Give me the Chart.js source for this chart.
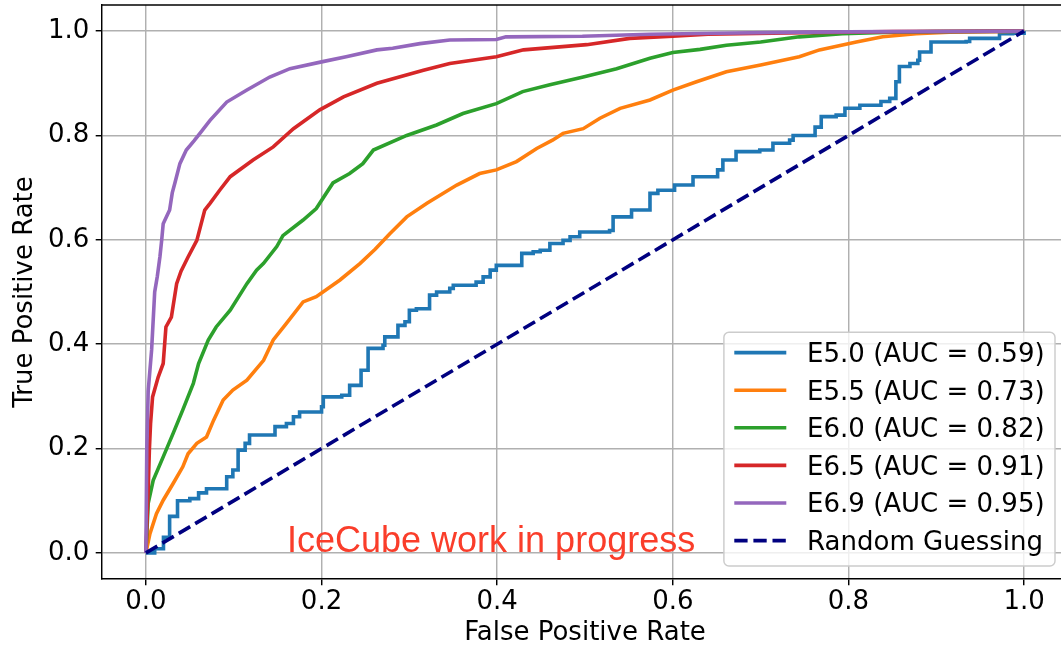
<!DOCTYPE html>
<html>
<head>
<meta charset="utf-8">
<script src="https://cdn.jsdelivr.net/npm/chart.js@4.4.1/dist/chart.umd.min.js"></script>
<style>
  html, body { margin: 0; padding: 0; overflow: hidden; background: #fff; width: 1061px; height: 646px; }
  #wrap { width: 1080px; height: 646px; }
  canvas { display: block; }
</style>
</head>
<body>
<div id="wrap"><canvas id="roc" width="1080" height="646"></canvas></div>
<script>
// Axis ticks
const tickValues = [0.0, 0.2, 0.4, 0.6, 0.8, 1.0];

// Legend labels
const seriesLabels = [
  'E5.0 (AUC = 0.59)',
  'E5.5 (AUC = 0.73)',
  'E6.0 (AUC = 0.82)',
  'E6.5 (AUC = 0.91)',
  'E6.9 (AUC = 0.95)',
  'Random Guessing'
];

// ROC curves: false positive rate / true positive rate
const e50Fpr = [0, 0.010, 0.020, 0.027, 0.036, 0.050, 0.060, 0.069, 0.092, 0.099, 0.105, 0.113, 0.118, 0.147, 0.160, 0.168, 0.175, 0.200, 0.202, 0.223, 0.232, 0.245, 0.253, 0.270, 0.272, 0.287, 0.295, 0.300, 0.308, 0.323, 0.331, 0.346, 0.350, 0.376, 0.384, 0.392, 0.399, 0.428, 0.441, 0.449, 0.460, 0.475, 0.483, 0.494, 0.528, 0.532, 0.553, 0.574, 0.583, 0.602, 0.623, 0.651, 0.657, 0.672, 0.699, 0.714, 0.733, 0.737, 0.762, 0.769, 0.786, 0.796, 0.813, 0.837, 0.847, 0.854, 0.858, 0.870, 0.879, 0.881, 0.894, 0.934, 0.938, 0.972, 0.987, 1.000];
const e50Tpr = [0, 0.008, 0.030, 0.070, 0.100, 0.104, 0.115, 0.123, 0.146, 0.159, 0.197, 0.210, 0.226, 0.242, 0.248, 0.261, 0.270, 0.280, 0.299, 0.302, 0.321, 0.350, 0.392, 0.398, 0.414, 0.436, 0.443, 0.465, 0.468, 0.494, 0.500, 0.507, 0.513, 0.519, 0.529, 0.542, 0.551, 0.574, 0.577, 0.580, 0.593, 0.599, 0.606, 0.615, 0.618, 0.644, 0.657, 0.689, 0.695, 0.705, 0.721, 0.734, 0.753, 0.769, 0.772, 0.785, 0.791, 0.800, 0.816, 0.836, 0.839, 0.852, 0.858, 0.865, 0.871, 0.903, 0.932, 0.938, 0.944, 0.960, 0.979, 0.980, 0.986, 0.995, 0.996, 1.000];

const e55Fpr = [0, 0.0046, 0.012, 0.0197, 0.031, 0.042, 0.048, 0.058, 0.069, 0.077, 0.088, 0.099, 0.115, 0.134, 0.145, 0.160, 0.179, 0.194, 0.221, 0.244, 0.261, 0.278, 0.297, 0.320, 0.354, 0.380, 0.399, 0.422, 0.445, 0.463, 0.475, 0.498, 0.517, 0.540, 0.574, 0.600, 0.627, 0.661, 0.700, 0.744, 0.767, 0.809, 0.839, 0.877, 0.915, 1.000];
const e55Tpr = [0, 0.037, 0.075, 0.101, 0.133, 0.165, 0.190, 0.210, 0.222, 0.254, 0.293, 0.312, 0.331, 0.369, 0.408, 0.440, 0.481, 0.491, 0.523, 0.555, 0.582, 0.612, 0.644, 0.670, 0.705, 0.727, 0.734, 0.750, 0.775, 0.791, 0.804, 0.813, 0.833, 0.852, 0.868, 0.887, 0.903, 0.922, 0.935, 0.951, 0.964, 0.979, 0.989, 0.995, 0.998, 1.000];

const e60Fpr = [0, 0.0026, 0.0083, 0.0197, 0.031, 0.042, 0.054, 0.060, 0.071, 0.080, 0.096, 0.115, 0.126, 0.134, 0.149, 0.156, 0.179, 0.194, 0.213, 0.232, 0.247, 0.259, 0.297, 0.331, 0.361, 0.399, 0.429, 0.460, 0.498, 0.536, 0.574, 0.600, 0.631, 0.661, 0.700, 0.744, 0.793, 0.850, 0.900, 1.000];
const e60Tpr = [0, 0.095, 0.139, 0.184, 0.229, 0.274, 0.325, 0.363, 0.408, 0.433, 0.465, 0.516, 0.542, 0.555, 0.587, 0.608, 0.638, 0.660, 0.709, 0.727, 0.746, 0.772, 0.800, 0.820, 0.842, 0.861, 0.884, 0.897, 0.912, 0.928, 0.948, 0.959, 0.965, 0.973, 0.979, 0.989, 0.995, 0.998, 0.999, 1.000];

const e65Fpr = [0, 0.001, 0.0026, 0.004, 0.0053, 0.0076, 0.014, 0.0197, 0.0228, 0.029, 0.035, 0.040, 0.048, 0.058, 0.067, 0.073, 0.084, 0.096, 0.122, 0.145, 0.168, 0.198, 0.225, 0.263, 0.316, 0.346, 0.399, 0.430, 0.502, 0.551, 0.600, 0.640, 0.750, 0.850, 1.000];
const e65Tpr = [0, 0.050, 0.120, 0.200, 0.248, 0.299, 0.337, 0.363, 0.433, 0.452, 0.516, 0.540, 0.567, 0.599, 0.657, 0.670, 0.695, 0.721, 0.753, 0.778, 0.813, 0.849, 0.874, 0.900, 0.925, 0.938, 0.951, 0.964, 0.974, 0.986, 0.990, 0.994, 0.997, 0.999, 1.000];

const e69Fpr = [0, 0.001, 0.0026, 0.0065, 0.010, 0.013, 0.016, 0.018, 0.0197, 0.027, 0.030, 0.033, 0.0387, 0.046, 0.055, 0.0615, 0.073, 0.092, 0.115, 0.141, 0.164, 0.200, 0.228, 0.263, 0.281, 0.312, 0.346, 0.399, 0.410, 0.497, 0.574, 0.650, 0.750, 0.850, 1.000];
const e69Tpr = [0, 0.200, 0.310, 0.389, 0.500, 0.530, 0.568, 0.600, 0.631, 0.657, 0.690, 0.709, 0.746, 0.772, 0.790, 0.804, 0.829, 0.864, 0.887, 0.912, 0.928, 0.941, 0.951, 0.964, 0.967, 0.976, 0.983, 0.984, 0.989, 0.990, 0.994, 0.996, 0.998, 0.999, 1.000];

const chanceFpr = [0, 1];
const chanceTpr = [0, 1];

const seriesColors = ['#1f77b4', '#ff7f0e', '#2ca02c', '#d62728', '#9467bd', '#000080'];

const FONT = 'DejaVu Sans';
const FS = 26;
const LW = 3.6;
const DASH = [13.3, 5.8];

const toPoints = (xs, ys) => xs.map((x, i) => ({ x: x, y: ys[i] }));

const curves = [
  [e50Fpr, e50Tpr], [e55Fpr, e55Tpr], [e60Fpr, e60Tpr],
  [e65Fpr, e65Tpr], [e69Fpr, e69Tpr], [chanceFpr, chanceTpr]
];

const datasets = curves.map((c, i) => ({
  label: seriesLabels[i],
  data: toPoints(c[0], c[1]),
  borderColor: seriesColors[i],
  backgroundColor: seriesColors[i],
  borderWidth: LW,
  borderDash: i === 5 ? DASH : [],
  stepped: i === 0 ? 'before' : false,
  pointRadius: 0,
  fill: false,
  tension: 0,
  order: 5 - i
}));

// Top spine, watermark text and the lower-right legend
const decorations = {
  id: 'decorations',
  afterDraw(chart) {
    const ctx = chart.ctx;
    const a = chart.chartArea;
    ctx.save();
    ctx.strokeStyle = '#000';
    ctx.lineWidth = 1.45;
    ctx.beginPath();
    ctx.moveTo(a.left, a.top);
    ctx.lineTo(a.right, a.top);
    ctx.stroke();

    // overlay note
    ctx.font = '36px "Liberation Sans", Arial, sans-serif';
    ctx.fillStyle = '#fa3d2a';
    ctx.textBaseline = 'alphabetic';
    ctx.textAlign = 'left';
    ctx.fillText('IceCube work in progress', 287, 552);

    // legend
    ctx.font = FS + 'px "' + FONT + '"';
    const pad = 0.5 * FS, borderPad = 0.4 * FS, handleLen = 2 * FS, handlePad = 0.8 * FS;
    const rowH = 37.6, textH = 25;
    const labels = chart.data.datasets.map(d => d.label);
    const textW = Math.max(...labels.map(t => ctx.measureText(t).width));
    const boxW = borderPad + handleLen + handlePad + textW + borderPad;
    const boxH = 2 * borderPad + textH + (labels.length - 1) * rowH;
    const bx = a.right - pad - boxW;
    const by = a.bottom - pad - boxH;
    ctx.beginPath();
    ctx.roundRect(bx, by, boxW, boxH, 5);
    ctx.fillStyle = 'rgba(255,255,255,0.8)';
    ctx.fill();
    ctx.strokeStyle = '#cccccc';
    ctx.lineWidth = 1.45;
    ctx.stroke();

    chart.data.datasets.forEach((d, i) => {
      const cy = by + borderPad + 10 + i * rowH;
      const dashed = d.borderDash && d.borderDash.length;
      ctx.beginPath();
      ctx.strokeStyle = d.borderColor;
      ctx.lineWidth = LW;
      ctx.setLineDash(dashed ? d.borderDash : []);
      ctx.lineCap = dashed ? 'butt' : 'square';
      const hx = bx + borderPad;
      ctx.moveTo(hx + (dashed ? 0 : 1.8), cy);
      ctx.lineTo(hx + handleLen - (dashed ? 0 : 1.8), cy);
      ctx.stroke();
      ctx.setLineDash([]);
      ctx.fillStyle = '#000';
      ctx.textBaseline = 'alphabetic';
      ctx.fillText(d.label, hx + handleLen + handlePad, cy + 0.365 * FS);
    });
    ctx.restore();
  }
};

const axisCommon = (afterFitFn) => ({
  type: 'linear',
  min: -0.05,
  max: 1.05,
  afterBuildTicks: s => { s.ticks = tickValues.map(v => ({ value: v })); },
  afterFit: afterFitFn,
  grid: { color: '#b0b0b0', lineWidth: 1.45, tickColor: '#000', tickWidth: 1.45, tickLength: 6.3, drawTicks: true },
  border: { display: true, color: '#000', width: 1.45 },
});

new Chart(document.getElementById('roc'), {
  type: 'line',
  data: { datasets: datasets },
  options: {
    responsive: false,
    animation: false,
    devicePixelRatio: 1,
    layout: { padding: { top: 5, right: 12, left: 0, bottom: 0 } },
    plugins: { legend: { display: false }, tooltip: { enabled: false } },
    scales: {
      x: Object.assign(axisCommon(s => {
        s.height = 67; s.paddingLeft = 0; s.paddingRight = 0;
      }), {
        ticks: { color: '#000', font: { family: FONT, size: FS, lineHeight: 1.2 }, padding: 1.2, maxRotation: 0, autoSkip: false,
                 callback: v => Number(v).toFixed(1) },
        title: { display: true, text: 'False Positive Rate', color: '#000',
                 font: { family: FONT, size: FS, lineHeight: 1 }, padding: { top: 1.2, bottom: 0 } }
      }),
      y: Object.assign(axisCommon(s => {
        s.width = 102; s.paddingTop = 0; s.paddingBottom = 0;
      }), {
        ticks: { color: '#000', font: { family: FONT, size: FS, lineHeight: 1.2 }, padding: 6.3, autoSkip: false,
                 callback: v => Number(v).toFixed(1) },
        title: { display: true, text: 'True Positive Rate', color: '#000',
                 font: { family: FONT, size: FS, lineHeight: 1.2 }, padding: { top: 9.4, bottom: 0 } }
      })
    }
  },
  plugins: [decorations]
});
</script>
</body>
</html>
